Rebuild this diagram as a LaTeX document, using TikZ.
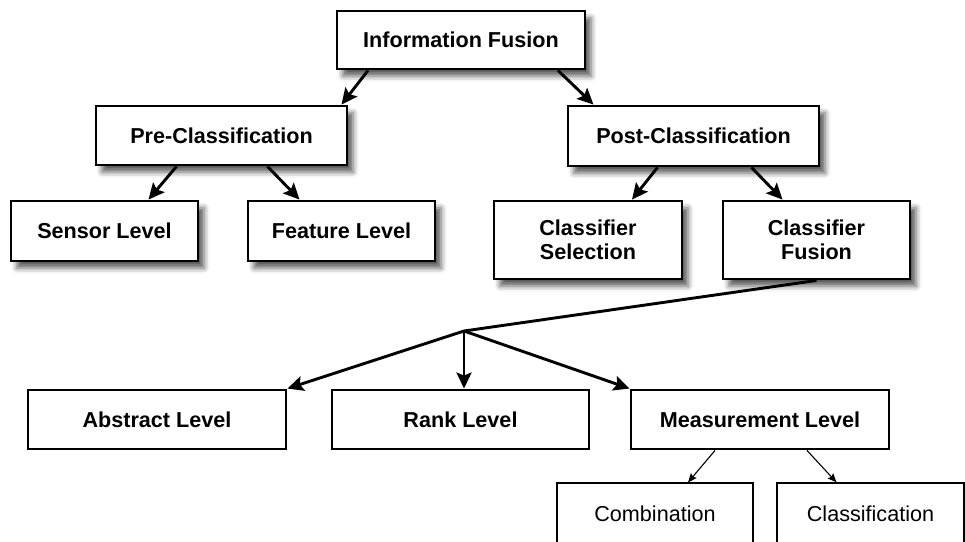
\documentclass[tikz,border=0pt]{standalone}
\usepackage{fontspec}
\setmainfont{Liberation Sans}
\usetikzlibrary{arrows.meta,shadows.blur}

\tikzset{
  x=1pt, y=1pt,
  box/.style={draw=black, fill=white, line width=2.9pt, inner sep=0pt,
    align=center, font=\fontsize{21.6}{24}\selectfont\bfseries},
  shadowed/.style={blur shadow={shadow xshift=6pt, shadow yshift=-7pt,
    shadow blur radius=5.5pt, shadow opacity=65}},
  thinbox/.style={draw=black, fill=white, line width=1.2pt, inner sep=0pt,
    align=center, font=\fontsize{21.6}{24}\selectfont},
  bigarrow/.style={line width=2.9pt, -{Stealth[length=16pt,width=15pt,inset=3pt]}},
  smallarrow/.style={line width=1.1pt, -{Stealth[length=9pt,width=7.5pt,inset=1.5pt]}},
}

\begin{document}
\begin{tikzpicture}
\useasboundingbox (0,0) rectangle (965,-541);
\clip (0,0) rectangle (965,-541);

% top levels
\node[box, shadowed, minimum width=248, minimum height=58] (info) at (461,-40) {Information Fusion};
\node[box, shadowed, minimum width=251, minimum height=59] (pre) at (221.5,-135.5) {Pre-Classification};
\node[box, shadowed, minimum width=251, minimum height=60] (post) at (693.5,-136) {Post-Classification};

\node[box, shadowed, minimum width=187, minimum height=60] (sensor) at (104.5,-231) {Sensor Level};
\node[box, shadowed, minimum width=187, minimum height=60] (feature) at (341.5,-231) {Feature Level};
\node[box, shadowed, minimum width=188, minimum height=78] (sel) at (588,-240) {Classifier\\Selection};
\node[box, shadowed, minimum width=187, minimum height=78] (fus) at (816.5,-240) {Classifier\\Fusion};

% fusion levels
\node[box, minimum width=258, minimum height=59] (abstract) at (157,-419.5) {Abstract Level};
\node[box, minimum width=257, minimum height=59] (rank) at (460.5,-419.5) {Rank Level};
\node[box, minimum width=258, minimum height=59] (meas) at (760,-419.5) {Measurement Level};

% measurement level variants
\node[thinbox, minimum width=196, minimum height=62] (comb) at (655,-514) {Combination};
\node[thinbox, minimum width=187, minimum height=62] (class) at (870.5,-514) {Classification};

% connectors
\draw[bigarrow] ([xshift=-93pt]info.south) -- ([xshift=120pt]pre.north);
\draw[bigarrow] ([xshift=97pt]info.south) -- ([xshift=-100pt]post.north);
\draw[bigarrow] ([xshift=-45pt]pre.south) -- ([xshift=44pt]sensor.north);
\draw[bigarrow] ([xshift=46pt]pre.south) -- ([xshift=-42pt]feature.north);
\draw[bigarrow] ([xshift=-36pt]post.south) -- ([xshift=44pt]sel.north);
\draw[bigarrow] ([xshift=58pt]post.south) -- ([xshift=-34pt]fus.north);

\coordinate (split) at (464,-331);
\draw[line width=2.9pt] (fus.south) -- (split);
\draw[bigarrow] (split) -- (abstract.north east);
\draw[bigarrow] (split) -- ([xshift=3.5pt]rank.north);
\draw[bigarrow] (split) -- (meas.north west);

\draw[smallarrow] ([xshift=-45pt]meas.south) -- ([xshift=33pt]comb.north);
\draw[smallarrow] ([xshift=47pt]meas.south) -- ([xshift=-34pt]class.north);
\end{tikzpicture}
\end{document}
